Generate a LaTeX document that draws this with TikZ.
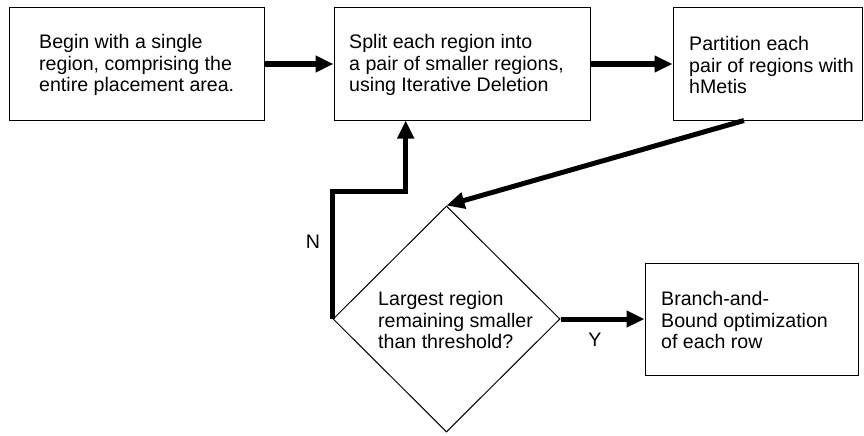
\documentclass[tikz,border=0pt]{standalone}
\usepackage{fontspec}
\setmainfont{Liberation Sans}
\usetikzlibrary{arrows.meta,shapes.geometric,calc}
\begin{document}
\begin{tikzpicture}[x=1pt,y=-1pt,
  box/.style={draw,line width=1pt,rectangle,inner sep=0pt},
  lbl/.style={align=left,anchor=west,inner sep=0pt,font=\fontsize{19.6}{21.8}\selectfont},
  tag/.style={inner sep=0pt,font=\fontsize{19.6}{21.8}\selectfont},
  flow/.style={line width=5pt,line join=miter,-{Triangle[length=18pt,width=16pt]}},
  ]
\useasboundingbox[fill=white] (0,0) rectangle (864,436);
\node[box,minimum width=255pt,minimum height=112pt] (b1) at (136.5,64) {};
\node[box,minimum width=256pt,minimum height=112pt] (b2) at (462,64) {};
\node[box,minimum width=189pt,minimum height=112pt] (b3) at (767.5,64) {};
\node[box,minimum width=213pt,minimum height=112pt] (b4) at (751.5,319) {};
\node[draw,line width=1pt,shape=diamond,inner sep=0pt,minimum width=227pt,minimum height=226pt] (d) at (446.5,319) {};

\node[lbl] (t1) at (39,65) {Begin with a single\\region, comprising the\\entire placement area.};
\node[lbl] (t2) at (349,65) {Split each region into\\a pair of smaller regions,\\using Iterative Deletion};
\node[lbl] (t3) at (689,65) {Partition each\\pair of regions with\\hMetis};
\node[lbl] (t4) at (661,320) {Branch-and-\\Bound optimization\\of each row};
\node[lbl] (td) at (378,320) {Largest region\\remaining smaller\\than threshold?};

\node[tag] (nl) at (313,242) {N};
\node[tag] (yl) at (595,340) {Y};

\draw[flow] (b1.east) -- (b2.west);
\draw[flow] (b2.east) -- (b3.west);
\coordinate (dg) at ($(b3.south west)!0.376!(b3.south east)$);
\draw[flow] (dg) -- (d.north);
\draw[flow] (d.east) -- (b4.west);
\coordinate (nc) at ($(b2.south west)!0.281!(b2.south east)$);
\coordinate (nk) at (d.west |- 0,191);
\draw[flow] (d.west) -- (nk) -| (nc);
\end{tikzpicture}
\end{document}
